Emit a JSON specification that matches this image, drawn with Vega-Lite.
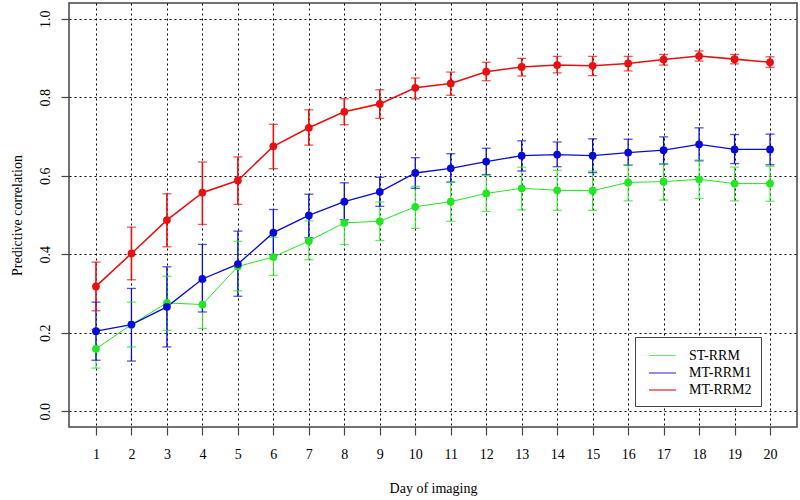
{
 "$schema": "https://vega.github.io/schema/vega-lite/v6.json",
 "width": 728, "height": 424,
 "autosize": {"type": "none"},
 "padding": {"left": 69, "top": 3, "right": 3, "bottom": 73},
 "background": "white",
 "config": {
  "font": "Liberation Serif",
  "view": {"stroke": "#444", "strokeWidth": 1.5},
  "axis": {"grid": true, "gridColor": "black", "gridDash": [2, 3], "gridWidth": 1, "gridOpacity": 1, "domain": false, "tickColor": "#444", "tickSize": 8, "tickWidth": 1.2, "labelFont": "Liberation Serif", "labelFontSize": 14, "labelColor": "black", "titleFont": "Liberation Serif", "titleFontSize": 14, "titleFontWeight": "normal", "titleColor": "black"},
  "legend": {"orient": "none", "legendX": 566, "legendY": 334, "symbolType": "M-1.5,0H1.5", "symbolSize": 324, "symbolStrokeWidth": 1.8, "symbolOffset": 8.5, "labelFont": "Liberation Serif", "labelFontSize": 14, "labelColor": "black", "fillColor": "white", "strokeColor": "#444", "padding": 9, "rowPadding": 0, "labelOffset": 16.5}
 },
 "data": {"values": [
  {"day": 1, "model": "ST-RRM", "r": 0.159, "lo": 0.110, "hi": 0.209},
  {"day": 2, "model": "ST-RRM", "r": 0.221, "lo": 0.164, "hi": 0.278},
  {"day": 3, "model": "ST-RRM", "r": 0.276, "lo": 0.206, "hi": 0.344},
  {"day": 4, "model": "ST-RRM", "r": 0.272, "lo": 0.211, "hi": 0.333},
  {"day": 5, "model": "ST-RRM", "r": 0.369, "lo": 0.307, "hi": 0.433},
  {"day": 6, "model": "ST-RRM", "r": 0.393, "lo": 0.346, "hi": 0.443},
  {"day": 7, "model": "ST-RRM", "r": 0.434, "lo": 0.386, "hi": 0.485},
  {"day": 8, "model": "ST-RRM", "r": 0.480, "lo": 0.425, "hi": 0.532},
  {"day": 9, "model": "ST-RRM", "r": 0.484, "lo": 0.435, "hi": 0.533},
  {"day": 10, "model": "ST-RRM", "r": 0.521, "lo": 0.466, "hi": 0.573},
  {"day": 11, "model": "ST-RRM", "r": 0.534, "lo": 0.484, "hi": 0.583},
  {"day": 12, "model": "ST-RRM", "r": 0.555, "lo": 0.509, "hi": 0.601},
  {"day": 13, "model": "ST-RRM", "r": 0.568, "lo": 0.513, "hi": 0.622},
  {"day": 14, "model": "ST-RRM", "r": 0.563, "lo": 0.512, "hi": 0.614},
  {"day": 15, "model": "ST-RRM", "r": 0.562, "lo": 0.512, "hi": 0.612},
  {"day": 16, "model": "ST-RRM", "r": 0.583, "lo": 0.536, "hi": 0.627},
  {"day": 17, "model": "ST-RRM", "r": 0.585, "lo": 0.538, "hi": 0.630},
  {"day": 18, "model": "ST-RRM", "r": 0.591, "lo": 0.542, "hi": 0.640},
  {"day": 19, "model": "ST-RRM", "r": 0.580, "lo": 0.536, "hi": 0.622},
  {"day": 20, "model": "ST-RRM", "r": 0.580, "lo": 0.535, "hi": 0.624},
  {"day": 1, "model": "MT-RRM1", "r": 0.204, "lo": 0.130, "hi": 0.278},
  {"day": 2, "model": "MT-RRM1", "r": 0.221, "lo": 0.128, "hi": 0.313},
  {"day": 3, "model": "MT-RRM1", "r": 0.266, "lo": 0.164, "hi": 0.368},
  {"day": 4, "model": "MT-RRM1", "r": 0.337, "lo": 0.253, "hi": 0.425},
  {"day": 5, "model": "MT-RRM1", "r": 0.375, "lo": 0.293, "hi": 0.459},
  {"day": 6, "model": "MT-RRM1", "r": 0.455, "lo": 0.399, "hi": 0.514},
  {"day": 7, "model": "MT-RRM1", "r": 0.499, "lo": 0.442, "hi": 0.553},
  {"day": 8, "model": "MT-RRM1", "r": 0.534, "lo": 0.488, "hi": 0.582},
  {"day": 9, "model": "MT-RRM1", "r": 0.559, "lo": 0.522, "hi": 0.596},
  {"day": 10, "model": "MT-RRM1", "r": 0.607, "lo": 0.568, "hi": 0.646},
  {"day": 11, "model": "MT-RRM1", "r": 0.619, "lo": 0.584, "hi": 0.656},
  {"day": 12, "model": "MT-RRM1", "r": 0.636, "lo": 0.603, "hi": 0.670},
  {"day": 13, "model": "MT-RRM1", "r": 0.651, "lo": 0.612, "hi": 0.689},
  {"day": 14, "model": "MT-RRM1", "r": 0.654, "lo": 0.623, "hi": 0.686},
  {"day": 15, "model": "MT-RRM1", "r": 0.651, "lo": 0.608, "hi": 0.694},
  {"day": 16, "model": "MT-RRM1", "r": 0.659, "lo": 0.627, "hi": 0.693},
  {"day": 17, "model": "MT-RRM1", "r": 0.665, "lo": 0.630, "hi": 0.699},
  {"day": 18, "model": "MT-RRM1", "r": 0.680, "lo": 0.638, "hi": 0.722},
  {"day": 19, "model": "MT-RRM1", "r": 0.667, "lo": 0.631, "hi": 0.705},
  {"day": 20, "model": "MT-RRM1", "r": 0.667, "lo": 0.628, "hi": 0.706},
  {"day": 1, "model": "MT-RRM2", "r": 0.318, "lo": 0.256, "hi": 0.380},
  {"day": 2, "model": "MT-RRM2", "r": 0.402, "lo": 0.335, "hi": 0.469},
  {"day": 3, "model": "MT-RRM2", "r": 0.487, "lo": 0.419, "hi": 0.554},
  {"day": 4, "model": "MT-RRM2", "r": 0.557, "lo": 0.476, "hi": 0.635},
  {"day": 5, "model": "MT-RRM2", "r": 0.588, "lo": 0.527, "hi": 0.648},
  {"day": 6, "model": "MT-RRM2", "r": 0.675, "lo": 0.618, "hi": 0.731},
  {"day": 7, "model": "MT-RRM2", "r": 0.722, "lo": 0.678, "hi": 0.768},
  {"day": 8, "model": "MT-RRM2", "r": 0.763, "lo": 0.730, "hi": 0.796},
  {"day": 9, "model": "MT-RRM2", "r": 0.783, "lo": 0.746, "hi": 0.819},
  {"day": 10, "model": "MT-RRM2", "r": 0.824, "lo": 0.796, "hi": 0.849},
  {"day": 11, "model": "MT-RRM2", "r": 0.835, "lo": 0.805, "hi": 0.864},
  {"day": 12, "model": "MT-RRM2", "r": 0.865, "lo": 0.842, "hi": 0.889},
  {"day": 13, "model": "MT-RRM2", "r": 0.877, "lo": 0.854, "hi": 0.899},
  {"day": 14, "model": "MT-RRM2", "r": 0.882, "lo": 0.862, "hi": 0.904},
  {"day": 15, "model": "MT-RRM2", "r": 0.880, "lo": 0.855, "hi": 0.904},
  {"day": 16, "model": "MT-RRM2", "r": 0.886, "lo": 0.867, "hi": 0.904},
  {"day": 17, "model": "MT-RRM2", "r": 0.896, "lo": 0.882, "hi": 0.909},
  {"day": 18, "model": "MT-RRM2", "r": 0.905, "lo": 0.892, "hi": 0.918},
  {"day": 19, "model": "MT-RRM2", "r": 0.897, "lo": 0.885, "hi": 0.909},
  {"day": 20, "model": "MT-RRM2", "r": 0.889, "lo": 0.876, "hi": 0.903}
 ]},
 "encoding": {
  "x": {"field": "day", "type": "quantitative", "scale": {"domain": [0.24, 20.76], "nice": false, "zero": false},
        "axis": {"values": [1,2,3,4,5,6,7,8,9,10,11,12,13,14,15,16,17,18,19,20], "title": "Day of imaging", "labelPadding": 12, "titlePadding": 20}},
  "color": {"field": "model", "type": "nominal", "sort": ["ST-RRM", "MT-RRM1", "MT-RRM2"],
            "scale": {"domain": ["ST-RRM", "MT-RRM1", "MT-RRM2"], "range": ["#22e622", "#0a0ad6", "#e81010"]},
            "legend": {"title": null, "symbolType": "M-1.5,0H1.5"}},
  "strokeWidth": {"field": "model", "type": "nominal", "scale": {"domain": ["ST-RRM", "MT-RRM1", "MT-RRM2"], "range": [1, 1.6, 1.6]}, "legend": null}
 },
 "layer": [
  {"mark": {"type": "rule"},
   "encoding": {"y": {"field": "lo", "type": "quantitative", "scale": {"domain": [-0.04, 1.04], "nice": false, "zero": false},
                      "axis": {"values": [0, 0.2, 0.4, 0.6, 0.8, 1.0], "format": ".1f", "title": "Predictive correlation", "labelAngle": -90, "labelAlign": "center", "labelBaseline": "bottom", "labelPadding": 9, "titlePadding": 14}},
                "y2": {"field": "hi"}}},
  {"mark": {"type": "tick", "orient": "horizontal", "size": 9, "thickness": 1.3},
   "encoding": {"y": {"field": "lo", "type": "quantitative"}}},
  {"mark": {"type": "tick", "orient": "horizontal", "size": 9, "thickness": 1.3},
   "encoding": {"y": {"field": "hi", "type": "quantitative"}}},
  {"mark": {"type": "line"},
   "encoding": {"y": {"field": "r", "type": "quantitative"}}},
  {"mark": {"type": "point", "filled": true, "opacity": 1, "size": 60},
   "encoding": {"y": {"field": "r", "type": "quantitative"}}}
 ]
}
